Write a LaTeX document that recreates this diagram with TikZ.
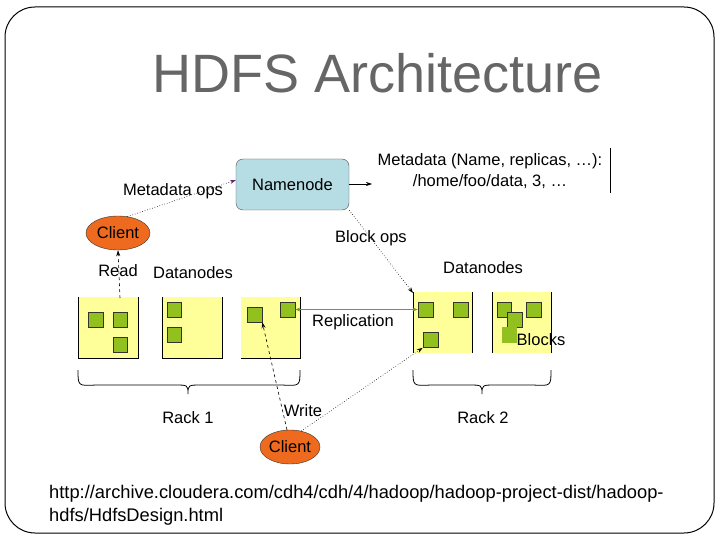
\documentclass[tikz,border=0pt]{standalone}
\usepackage{fontspec}
\setmainfont{Liberation Sans}
\usetikzlibrary{arrows.meta,shapes.geometric}
\definecolor{nnblue}{HTML}{B7DDE4}
\definecolor{clorange}{HTML}{EE6A1E}
\definecolor{dnyellow}{HTML}{FFFF99}
\definecolor{blkgreen}{HTML}{92C01E}
\definecolor{titlegray}{HTML}{666666}
\definecolor{opspurple}{HTML}{662266}
\tikzset{
  lbl/.style={inner sep=0pt, font=\fontsize{16.5}{18}\selectfont},
  client/.style={ellipse, draw=black!80, fill=clorange, inner sep=0pt, font=\fontsize{16.5}{18}\selectfont},
  blk/.style={fill=blkgreen, draw=black!80, line width=0.6pt},
  conn/.style={line width=0.6pt},
  tip/.style={-{Stealth[length=6pt,width=4pt]}}
}
\begin{document}
\begin{tikzpicture}[x=1pt,y=-1pt]
\useasboundingbox (0,0) rectangle (720,540);
\fill[white] (0,0) rectangle (720,540);
% frame
\draw[line width=1pt, rounded corners=30pt] (5,7) rectangle (714,533);
% title
\node[text=titlegray, font=\fontsize{54}{60}\selectfont, inner sep=0pt] (title) at (378,73) {HDFS Architecture};
% namenode
\node[draw=black!70, fill=nnblue, rounded corners=7pt, minimum width=113pt, minimum height=51pt, font=\fontsize{16.5}{18}\selectfont] (nn) at (292.5,184.5) {Namenode};
% metadata
\node[lbl, align=center] (meta) at (490,171) {Metadata (Name, replicas, …):\\[3pt]/home/foo/data, 3, …};
\coordinate (vtop) at (610,148);
\coordinate (vbot) at (610,193);
\draw[line width=0.8pt] (vtop) -- (vbot);
\coordinate (metain) at (372,184);
\draw[conn,tip] (nn.east |- metain) -- (metain);
% client 1
\node[client, minimum width=64pt, minimum height=34pt] (c1) at (118,233) {Client};
\node[lbl] (mops) at (173,191) {Metadata ops};
\coordinate (nnin) at (236,180);
\draw[conn, dotted, -{Stealth[length=6pt,width=4pt,fill=opspurple,color=opspurple]}] (c1.60) -- (nnin);
\node[lbl] (read) at (118,271) {Read};
\node[lbl] (dn1) at (193,273) {Datanodes};
% rack 1 boxes
\fill[dnyellow] (78,297) rectangle (138,358);
\fill[dnyellow] (162,297) rectangle (222,358);
\fill[dnyellow] (241,297) rectangle (300,358);
\draw[line width=0.8pt] (78,297) -- (78,358) -- (138,358) -- (138,297);
\draw[line width=0.8pt] (162,297) -- (162,358) -- (222,358) -- (222,297);
\draw[line width=0.8pt] (241,358) -- (300,358) -- (300,297);
% rack 1 blocks
\draw[blk] (88,312) rectangle (103,327);
\draw[blk] (113,312) rectangle (127,327);
\draw[blk] (113,337) rectangle (127,352);
\draw[blk] (167,302) rectangle (181,317);
\draw[blk] (167,327) rectangle (181,342);
\node[blk, minimum size=15pt, inner sep=0pt] (b31) at (254.5,314.5) {};
\node[blk, minimum size=15pt, inner sep=0pt] (b32) at (287.5,309.5) {};
% rack 2 boxes
\fill[dnyellow] (413,292) rectangle (472,353);
\fill[dnyellow] (492,292) rectangle (551,353);
\draw[line width=0.8pt] (413,292) -- (413,353);
\draw[line width=0.8pt] (472,292) -- (472,353);
\draw[line width=0.8pt] (492,292) -- (492,353);
\draw[line width=0.8pt] (551,292) -- (551,353);
\node[blk, minimum size=15pt, inner sep=0pt] (r2a) at (425.5,309.5) {};
\draw[blk] (453,302) rectangle (468,317);
\node[blk, minimum size=15pt, inner sep=0pt] (r2c) at (430.5,340) {};
\draw[blk] (497,302) rectangle (511,317);
\draw[blk] (526,302) rectangle (541,317);
\draw[blk] (507,312) rectangle (522,327);
\fill[blkgreen] (502,327) rectangle (517,343);
\node[lbl] (blocks) at (541,340) {Blocks};
\node[lbl] (dn2) at (483,268) {Datanodes};
% replication
\draw[blkgreen!80!black, line width=0.8pt, {Stealth[length=5pt,width=4pt]}-{Stealth[length=5pt,width=4pt]}] (b32.east) -- (r2a.west);
\node[lbl] (repl) at (353,322) {Replication};
% block ops
\node[lbl] (bops) at (371,238) {Block ops};
\coordinate (r2corner) at (413,293);
\draw[conn, dotted, tip] (nn.south east) -- (r2corner);
% read
\coordinate (readstart) at (120,298);
\draw[conn, dashed, tip] (readstart) -- (c1.south);
% braces
\draw[line width=0.8pt] (78,370) .. controls (78,386) .. (96,385) -- (174,385) .. controls (188,385) .. (188,394) .. controls (188,385) .. (202,385) -- (282,385) .. controls (300,386) .. (300,370);
\draw[line width=0.8pt] (413,370) .. controls (413,386) .. (431,385) -- (468,385) .. controls (482,385) .. (482,394) .. controls (482,385) .. (496,385) -- (533,385) .. controls (551,386) .. (551,370);
\node[lbl] (rack1) at (188,418) {Rack 1};
\node[lbl] (rack2) at (483,418) {Rack 2};
% client 2
\node[client, minimum width=60pt, minimum height=34pt] (c2) at (290,447) {Client};
\node[lbl] (write) at (303,411) {Write};
\draw[conn, dashed, tip] (c2.100) -- (b31.south east);
\draw[conn, dotted, tip] (c2.55) -- (r2c.south west);
% url
\node[inner sep=0pt, anchor=west, align=left, font=\fontsize{18.3}{23}\selectfont] (url) at (49,505) {http://archive.cloudera.com/cdh4/cdh/4/hadoop/hadoop-project-dist/hadoop-\\hdfs/HdfsDesign.html};
\end{tikzpicture}
\end{document}
